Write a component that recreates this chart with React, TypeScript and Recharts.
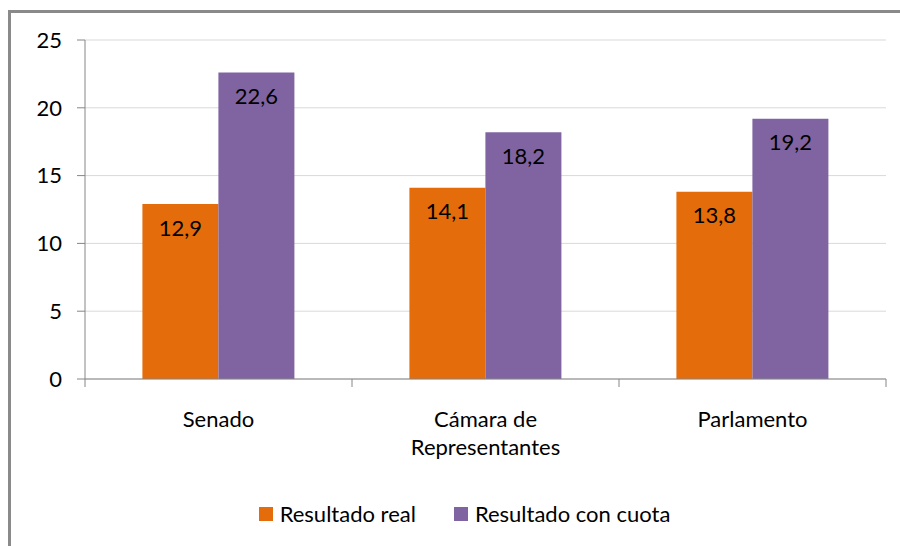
import { Bar, BarChart, CartesianGrid, LabelList, Legend, XAxis, YAxis } from "recharts";

const categories = ["Senado", "Cámara de Representantes", "Parlamento"];
const tickLines = [["Senado"], ["Cámara de", "Representantes"], ["Parlamento"]];
const realValues = [12.9, 14.1, 13.8];
const quotaValues = [22.6, 18.2, 19.2];
const yTicks = [0, 5, 10, 15, 20, 25];
const seriesOrder = ["real", "cuota"];

const ORANGE = "#E46C0A";
const PURPLE = "#8064A2";
const FONT = "Lato, 'Open Sans', sans-serif";

const data = categories.map((name, i) => ({
  name,
  real: realValues[i],
  cuota: quotaValues[i],
}));

const PLOT_LEFT = 85;
const PLOT_RIGHT = 886;
const BAND = (PLOT_RIGHT - PLOT_LEFT) / categories.length;

const fmt = (v: unknown) => Number(v).toFixed(1).replace(".", ",");

function CategoryTick(props: any) {
  const { x, y, index } = props;
  const lines = tickLines[index] ?? [String(props.payload.value)];
  const left = x - BAND / 2;
  return (
    <g>
      <line x1={left} y1={y - 8} x2={left} y2={y} stroke="#868686" />
      {index === categories.length - 1 && (
        <line x1={left + BAND} y1={y - 8} x2={left + BAND} y2={y} stroke="#868686" />
      )}
      <text x={x} y={y + 40} textAnchor="middle" fontFamily={FONT} fontSize={22} fill="#000">
        {lines.map((l: string, k: number) => (
          <tspan key={k} x={x} dy={k === 0 ? 0 : 28}>
            {l}
          </tspan>
        ))}
      </text>
    </g>
  );
}

function LegendContent({ payload }: any) {
  const items = [...(payload ?? [])].sort(
    (a: any, b: any) => seriesOrder.indexOf(a.dataKey) - seriesOrder.indexOf(b.dataKey)
  );
  return (
    <div style={{ display: "flex", justifyContent: "center", alignItems: "center", fontFamily: FONT, fontSize: 22 }}>
      {items.map((p: any, i: number) => (
        <div key={i} style={{ display: "flex", alignItems: "center", marginRight: i === 0 ? 38 : 0 }}>
          <span style={{ width: 14, height: 14, background: p.color, display: "inline-block", marginRight: 7 }} />
          <span style={{ color: "#000" }}>{p.value}</span>
        </div>
      ))}
    </div>
  );
}

export default function App() {
  return (
    <div style={{ position: "relative", width: 900, height: 546, overflow: "hidden", background: "#fff" }}>
      <style>{"body{margin:0;overflow:hidden}"}</style>
      <div
        style={{
          position: "absolute",
          left: 8,
          top: 10,
          width: 1000,
          height: 1000,
          borderLeft: "3px solid #8a8a8a",
          borderTop: "3px solid #8a8a8a",
        }}
      />
      <div style={{ position: "absolute", left: 0, top: 0 }}>
        <BarChart
          width={900}
          height={546}
          data={data}
          margin={{ top: 40, right: 14, left: 0, bottom: 16 }}
          barCategoryGap="21.5%"
          barGap={0}
        >
          <CartesianGrid stroke="#D9D9D9" vertical={false} />
          <XAxis
            dataKey="name"
            height={121}
            axisLine={{ stroke: "#868686" }}
            tickLine={false}
            tick={<CategoryTick />}
            interval={0}
          />
          <YAxis
            domain={[0, 25]}
            ticks={yTicks}
            width={85}
            axisLine={{ stroke: "#868686" }}
            tickLine={{ stroke: "#868686" }}
            tickSize={8}
            tickMargin={15}
            tick={{ fill: "#000", fontSize: 22, fontFamily: FONT }}
          />
          <Legend
            verticalAlign="bottom"
            height={30}
            content={<LegendContent />}
            wrapperStyle={{ left: 29, width: 871 }}
          />
          <Bar dataKey="real" name="Resultado real" fill={ORANGE} isAnimationActive={false}>
            <LabelList dataKey="real" position="insideTop" offset={16} formatter={fmt} fill="#000" fontSize={22} fontFamily={FONT} />
          </Bar>
          <Bar dataKey="cuota" name="Resultado con cuota" fill={PURPLE} isAnimationActive={false}>
            <LabelList dataKey="cuota" position="insideTop" offset={16} formatter={fmt} fill="#000" fontSize={22} fontFamily={FONT} />
          </Bar>
        </BarChart>
      </div>
    </div>
  );
}
